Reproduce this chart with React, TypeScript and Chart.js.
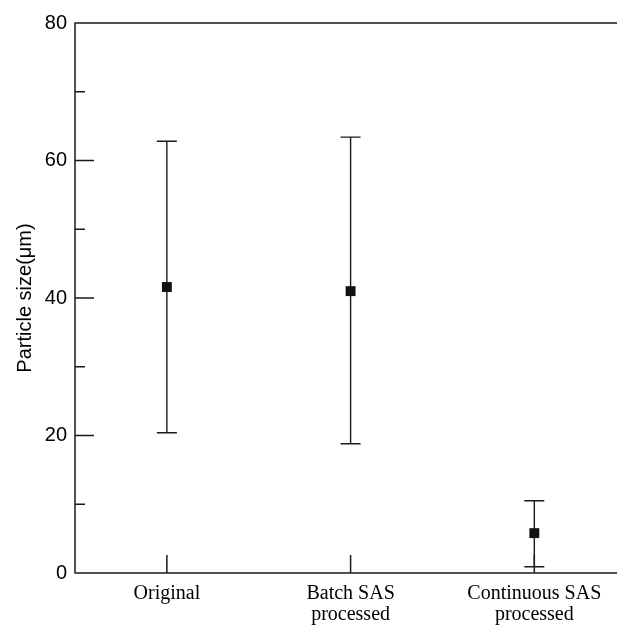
import { useEffect, useRef } from "react";
import { Chart, registerables } from "chart.js";

Chart.register(...registerables);

// ---- data ----
const categories: string[][] = [["Original"], ["Batch SAS", "processed"], ["Continuous SAS", "processed"]];
const categoryPositions = [0.5, 1.5, 2.5];
const meanSize = [41.6, 41.0, 5.8];
const upperSize = [62.8, 63.4, 10.5];
const lowerSize = [20.4, 18.8, 0.9];
const yMajorTicks = [0, 20, 40, 60, 80];
const yMinorTicks = [10, 30, 50, 70];
const X_MIN = 0;
const X_MAX = 2.95;
const Y_MIN = 0;
const Y_MAX = 80;

const INK = "#1a1a1a";
const SERIF = "'Liberation Serif', 'Times New Roman', serif";
const SANS = "'Liberation Sans', Arial, sans-serif";

const decorPlugin = {
  id: "decor",
  beforeDatasetsDraw(chart: any) {
    const { ctx } = chart;
    const xs = chart.scales.x;
    const ys = chart.scales.y;
    ctx.save();
    ctx.strokeStyle = INK;
    ctx.lineWidth = 1.4;
    categoryPositions.forEach((cx, i) => {
      const px = xs.getPixelForValue(cx);
      const pTop = ys.getPixelForValue(upperSize[i]);
      const pBot = ys.getPixelForValue(lowerSize[i]);
      ctx.beginPath();
      ctx.moveTo(px, pTop);
      ctx.lineTo(px, pBot);
      ctx.moveTo(px - 10, pTop);
      ctx.lineTo(px + 10, pTop);
      ctx.moveTo(px - 10, pBot);
      ctx.lineTo(px + 10, pBot);
      ctx.stroke();
    });
    ctx.restore();
  },
  afterDraw(chart: any) {
    const { ctx, chartArea } = chart;
    const xs = chart.scales.x;
    const ys = chart.scales.y;
    ctx.save();
    ctx.strokeStyle = INK;
    ctx.lineWidth = 1.5;
    ctx.beginPath();
    // frame: top, left and bottom
    ctx.moveTo(chartArea.right, chartArea.top);
    ctx.lineTo(chartArea.left, chartArea.top);
    ctx.lineTo(chartArea.left, chartArea.bottom);
    ctx.lineTo(chartArea.right, chartArea.bottom);
    // y major ticks (inward)
    yMajorTicks.forEach((v) => {
      const py = ys.getPixelForValue(v);
      ctx.moveTo(chartArea.left, py);
      ctx.lineTo(chartArea.left + 19, py);
    });
    yMinorTicks.forEach((v) => {
      const py = ys.getPixelForValue(v);
      ctx.moveTo(chartArea.left, py);
      ctx.lineTo(chartArea.left + 10, py);
    });
    // x ticks (inward, upward)
    categoryPositions.forEach((v) => {
      const px = xs.getPixelForValue(v);
      ctx.moveTo(px, chartArea.bottom);
      ctx.lineTo(px, chartArea.bottom - 18);
    });
    ctx.stroke();
    // category labels
    ctx.fillStyle = "#000";
    ctx.font = `20px ${SERIF}`;
    ctx.textAlign = "center";
    ctx.textBaseline = "alphabetic";
    categoryPositions.forEach((v, i) => {
      const px = xs.getPixelForValue(v);
      categories[i].forEach((line, j) => {
        ctx.fillText(line, px, chartArea.bottom + 26 + j * 21);
      });
    });
    ctx.restore();
  },
};

export default function App() {
  const canvasRef = useRef<HTMLCanvasElement | null>(null);

  useEffect(() => {
    document.body.style.margin = "0";
    const canvas = canvasRef.current;
    if (!canvas) return;
    const chart = new Chart(canvas, {
      type: "scatter",
      data: {
        datasets: [
          {
            data: categoryPositions.map((x, i) => ({ x, y: meanSize[i] })),
            pointStyle: "rect",
            pointRadius: 7,
            pointHoverRadius: 7,
            backgroundColor: "#111111",
            borderColor: "#111111",
            borderWidth: 0,
          },
        ],
      },
      options: {
        animation: false,
        responsive: false,
        maintainAspectRatio: false,
        layout: { autoPadding: false, padding: { top: 23, left: 0, right: 0, bottom: 0 } },
        plugins: {
          legend: { display: false },
          tooltip: { enabled: false },
        },
        scales: {
          x: {
            type: "linear",
            min: X_MIN,
            max: X_MAX,
            grid: { display: false, drawTicks: false },
            border: { display: false },
            ticks: { display: false },
            afterFit: (scale: any) => {
              scale.height = 52;
              scale.paddingLeft = 0;
              scale.paddingRight = 0;
            },
          },
          y: {
            type: "linear",
            min: Y_MIN,
            max: Y_MAX,
            grid: { display: false, drawTicks: false },
            border: { display: false },
            afterBuildTicks: (scale: any) => {
              scale.ticks = yMajorTicks.map((v) => ({ value: v }));
            },
            afterFit: (scale: any) => {
              scale.width = 75;
            },
            title: {
              display: true,
              text: "Particle size(μm)",
              color: "#000",
              padding: { top: 13, bottom: 0 },
              font: { family: SANS, size: 20, lineHeight: 1.2 },
            },
            ticks: {
              autoSkip: false,
              padding: 8,
              color: "#000",
              font: { family: SANS, size: 20 },
            },
          },
        },
      },
      plugins: [decorPlugin],
    });
    return () => chart.destroy();
  }, []);

  return (
    <div style={{ width: 617, height: 625 }}>
      <canvas ref={canvasRef} width={617} height={625} style={{ display: "block" }} />
    </div>
  );
}
